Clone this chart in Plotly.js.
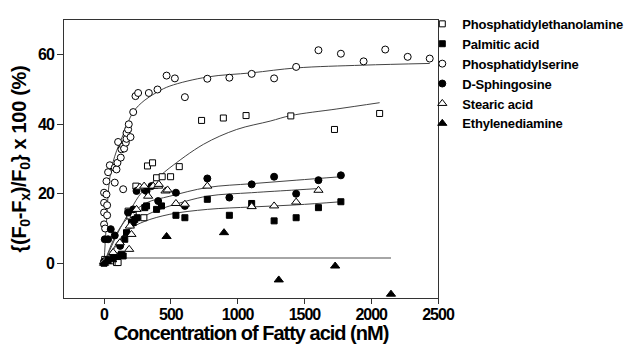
<!DOCTYPE html>
<html>
<head>
<meta charset="utf-8">
<script src="https://cdn.plot.ly/plotly-3.0.1.min.js"></script>
<style>
body{margin:0;padding:0;background:#fff;}
#chart{width:627px;height:344px;}
#chart .xtick text, #chart .ytick text{letter-spacing:-1px;}
#chart text.xtitle{letter-spacing:-1px;}
#chart text.ytitle{letter-spacing:-0.3px;}
#chart text.legendtext{letter-spacing:-0.2px;}
</style>
</head>
<body>
<div id="chart"></div>
<script>
// Scatter data
var peX = [5,55,93,105,180,193,218,238,298,325,363,393,435,498,563,730,893,1063,1398,1725,2063];
var peY = [1.1,0.7,0.2,0.2,15.0,13.6,14,22.2,13.1,28,28.9,24.6,24.9,24.9,27.8,41.1,41.8,42.5,42.4,38.5,43.1];

var paX = [0,30,68,93,130,143,155,168,205,218,230,248,305,318,393,430,538,605,773,938,1105,1273,1438,1605,1773];
var paY = [0,1,1.6,2.1,2.6,2.1,6.9,8.8,11.7,11.7,12.6,13.1,16,16.5,15.5,16.5,13.8,13.1,18.4,13.8,17.2,12.2,13.1,16.0,17.7];

var psX = [0,8,0,23,0,23,0,18,18,80,143,30,43,80,93,100,105,125,130,143,150,163,168,168,180,185,198,218,235,255,335,400,468,530,605,773,938,1105,1273,1438,1605,1773,1943,2105,2273,2438];
var psY = [11.2,10.0,14.6,13.8,17.4,16.7,20.3,19.8,23.6,23.2,21.3,26.2,28.2,27.5,27,28.9,34.9,30.4,32.8,33.7,33,34.7,35.8,37.5,38.5,40,36.3,43.5,48.1,49.0,49.0,50.0,54.0,53.2,47.8,53.1,53.4,54.5,53.2,56.5,61.3,60.3,58.1,61.5,59.4,58.9];

var spX = [0,5,30,50,80,120,180,218,243,305,318,355,405,538,605,773,938,1105,1273,1438,1605,1773];
var spY = [0.5,6.9,6.9,9.8,8,5,14.6,15.5,20.8,21.1,20.8,22.2,17.9,20.3,16.5,24.4,18.9,22.7,24.9,20.0,23.9,25.3];

var stX = [0,68,118,188,193,205,243,268,300,330,368,405,410,460,475,538,605,773,1105,1273,1438,1605];
var stY = [0.5,3.1,5.9,4.0,10.7,8.3,15.5,21.9,22.2,19.3,22.2,22.2,22.7,20.8,21.1,17.2,17.0,22.2,16.3,16.5,17.6,21.0];

var edX = [0,20,60,468,898,1308,1730,2148];
var edY = [0,0.5,1,7.7,8.8,-4.8,-0.8,-8.9];

// Fitted curves
var psFitX = [0,15,43,80,143,218,300,400,493,773,1105,1438,1938,2438];
var psFitY = [0,10,24.6,30.8,37,43.5,46.8,49.3,51,53.6,54.8,56.2,57,57.5];
var peFitX = [0,100,200,280,418,493,743,993,1243,1398,1743,2063];
var peFitY = [0,8.5,15.5,20.3,25.1,27.5,34.2,38.5,40.9,42.5,44.4,46.2];
var spFitX = [0,100,200,318,493,773,1105,1438,1773];
var spFitY = [0,9,14,17.4,19.3,21.8,22.9,23.9,24.9];
var stFitX = [0,100,200,300,418,493,773,1105,1438,1605];
var stFitY = [0,6,10.5,13.5,15.5,16.5,19.3,20.3,21.1,21.5];
var paFitX = [0,100,193,300,493,773,1105,1438,1773];
var paFitY = [0,5.5,9.8,12,14.1,15.5,16.2,16.8,17.7];
var edFitX = [0,30,100,2148];
var edFitY = [0,1.4,1.5,1.5];

var xTicks = [0,500,1000,1500,2000,2500];
var yTicks = [0,20,40,60];

var names = ['Phosphatidylethanolamine','Palmitic acid','Phosphatidylserine','D-Sphingosine','Stearic acid','Ethylenediamine'];

var fitLine = {color:'#444', width:1, shape:'spline'};
function fit(x,y,line){return {x:x,y:y,mode:'lines',line:line||fitLine,showlegend:false,hoverinfo:'skip'};}

var traces = [
  fit(psFitX,psFitY), fit(peFitX,peFitY), fit(spFitX,spFitY), fit(stFitX,stFitY), fit(paFitX,paFitY),
  fit(edFitX,edFitY,{color:'#a6a6a6',width:2,shape:'linear'}),
  {x:peX,y:peY,name:names[0],mode:'markers',marker:{symbol:'square',size:6,color:'#fff',line:{color:'#000',width:1}}},
  {x:paX,y:paY,name:names[1],mode:'markers',marker:{symbol:'square',size:6,color:'#000',line:{color:'#000',width:1}}},
  {x:psX,y:psY,name:names[2],mode:'markers',marker:{symbol:'circle',size:7,color:'#fff',line:{color:'#000',width:1}}},
  {x:spX,y:spY,name:names[3],mode:'markers',marker:{symbol:'circle',size:7,color:'#000',line:{color:'#000',width:1}}},
  {x:stX,y:stY,name:names[4],mode:'markers',marker:{symbol:'triangle-up',size:8,color:'#fff',line:{color:'#000',width:1}}},
  {x:edX,y:edY,name:names[5],mode:'markers',marker:{symbol:'triangle-up',size:8,color:'#000',line:{color:'#000',width:1}}}
];

var fnt = 'Liberation Sans, Arial, sans-serif';
var layout = {
  width:627, height:344,
  margin:{l:64,r:189,t:20,b:46,autoexpand:false},
  paper_bgcolor:'#fff', plot_bgcolor:'#fff',
  font:{family:fnt, color:'#000'},
  showlegend:true,
  legend:{x:0.958, xanchor:'left', y:1.04, yanchor:'top', font:{family:fnt,size:13,color:'#000',weight:'bold'}, bgcolor:'rgba(0,0,0,0)', itemwidth:30, tracegroupgap:0},
  xaxis:{range:[-300,2500], tickvals:xTicks, ticktext:xTicks.map(String), showline:true, mirror:true, linecolor:'#333', linewidth:1,
         ticks:'outside', ticklen:5, tickcolor:'#333', showgrid:false, zeroline:false, ticklabelstandoff:-3, automargin:false,
         tickfont:{family:fnt,size:16,weight:'bold'},
         title:{text:'Concentration of Fatty acid (nM)', font:{family:fnt,size:20,weight:'bold'}, standoff:4}},
  yaxis:{range:[-10,70], tickvals:yTicks, ticktext:yTicks.map(String), showline:true, mirror:true, linecolor:'#333', linewidth:1,
         ticks:'outside', ticklen:6, tickcolor:'#333', showgrid:false, zeroline:false, automargin:false,
         tickfont:{family:fnt,size:16,weight:'bold'},
         title:{text:'{(F<sub>0</sub>-F<sub>x</sub>)/F<sub>0</sub>} x 100 (%)', font:{family:fnt,size:20,weight:'bold'}, standoff:4}}
};

Plotly.newPlot('chart', traces, layout, {displayModeBar:false, staticPlot:true});
</script>
</body>
</html>
